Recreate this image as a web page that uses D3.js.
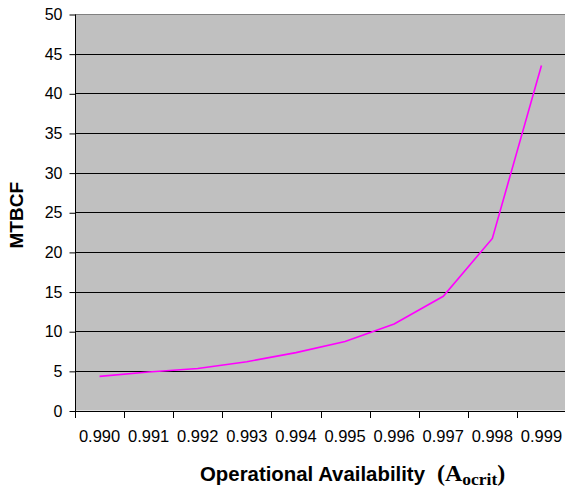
<!DOCTYPE html>
<html>
<head>
<meta charset="utf-8">
<script src="https://cdn.jsdelivr.net/npm/d3@7"></script>
<style>
  body { margin: 0; background: #fff; }
  svg { display: block; font-family: "Liberation Sans", Arial, sans-serif; }
</style>
</head>
<body>
<div id="chart"></div>
<script>
// Data
const categories = ['0.990', '0.991', '0.992', '0.993', '0.994', '0.995', '0.996', '0.997', '0.998', '0.999'];
const mtbcf = [4.3, 4.85, 5.3, 6.15, 7.3, 8.7, 10.9, 14.4, 21.7, 43.5];
const yTicks = [0, 5, 10, 15, 20, 25, 30, 35, 40, 45, 50];

const width = 565;
const height = 489;
const plot = { left: 75, right: 566, top: 14, bottom: 410.5 };

const svg = d3.select('#chart')
  .append('svg')
  .attr('width', width)
  .attr('height', height);

const x = d3.scaleBand()
  .domain(categories)
  .range([plot.left, plot.right]);

const y = d3.scaleLinear()
  .domain([0, 50])
  .range([plot.bottom, plot.top]);

// Plot background
svg.append('rect')
  .attr('x', plot.left)
  .attr('y', plot.top)
  .attr('width', plot.right - plot.left)
  .attr('height', plot.bottom - plot.top)
  .attr('fill', '#c0c0c0');

// Gridlines
svg.selectAll('.grid')
  .data(yTicks.filter(d => d > 0))
  .enter()
  .append('line')
  .attr('x1', plot.left)
  .attr('x2', plot.right)
  .attr('y1', d => Math.round(y(d)) + 0.5)
  .attr('y2', d => Math.round(y(d)) + 0.5)
  .attr('stroke', d => d === 50 ? '#808080' : '#000')
  .attr('stroke-width', 1);

// Y axis
const yAxis = svg.append('g')
  .attr('transform', `translate(${plot.left + 0.5}, 0.5)`)
  .call(d3.axisLeft(y).tickValues(yTicks).tickSize(6).tickPadding(7));
yAxis.select('.domain').attr('stroke', '#000').attr('d', `M0,${Math.round(y(50))}V${Math.round(y(0))}`);
yAxis.selectAll('.tick line').attr('stroke', '#000');
yAxis.selectAll('.tick text')
  .attr('font-size', '16px')
  .attr('font-family', '"Liberation Sans", Arial, sans-serif')
  .attr('fill', '#000');

// X axis line
svg.append('line')
  .attr('x1', plot.left)
  .attr('x2', plot.right)
  .attr('y1', Math.round(plot.bottom) + 0.5)
  .attr('y2', Math.round(plot.bottom) + 0.5)
  .attr('stroke', '#000');

// X ticks at category boundaries
svg.selectAll('.xtick')
  .data(categories)
  .enter()
  .append('line')
  .attr('x1', d => Math.round(x(d)) + 0.5)
  .attr('x2', d => Math.round(x(d)) + 0.5)
  .attr('y1', Math.round(plot.bottom))
  .attr('y2', Math.round(plot.bottom) + 7)
  .attr('stroke', '#000');

// X labels centred in bands
svg.selectAll('.xlabel')
  .data(categories)
  .enter()
  .append('text')
  .attr('x', d => x(d) + x.bandwidth() / 2)
  .attr('y', 442)
  .attr('text-anchor', 'middle')
  .attr('font-size', '16.5px')
  .text(d => d);

// Line
const line = d3.line()
  .x((d, i) => x(categories[i]) + x.bandwidth() / 2)
  .y(d => y(d));

svg.append('path')
  .datum(mtbcf)
  .attr('d', line)
  .attr('fill', 'none')
  .attr('stroke', '#ff00ff')
  .attr('stroke-width', 1.6);

// Y axis title
svg.append('text')
  .attr('transform', `translate(23, ${(plot.top + plot.bottom) / 2 + 3}) rotate(-90)`)
  .attr('text-anchor', 'middle')
  .attr('font-size', '19px')
  .attr('font-weight', 'bold')
  .text('MTBCF');

// X axis title
const xTitle = svg.append('text')
  .attr('x', 200)
  .attr('y', 481)
  .attr('font-weight', 'bold');

xTitle.append('tspan')
  .attr('font-size', '20px')
  .attr('textLength', 225)
  .attr('lengthAdjust', 'spacingAndGlyphs')
  .text('Operational Availability');

xTitle.append('tspan')
  .attr('x', 437)
  .attr('font-family', '"Liberation Serif", "Times New Roman", serif')
  .attr('font-size', '24px')
  .text('(A');

xTitle.append('tspan')
  .attr('font-family', '"Liberation Serif", "Times New Roman", serif')
  .attr('font-size', '17.5px')
  .attr('dy', 4)
  .text('ocrit');

xTitle.append('tspan')
  .attr('font-family', '"Liberation Serif", "Times New Roman", serif')
  .attr('font-size', '24px')
  .attr('dy', -4)
  .text(')');
</script>
</body>
</html>
